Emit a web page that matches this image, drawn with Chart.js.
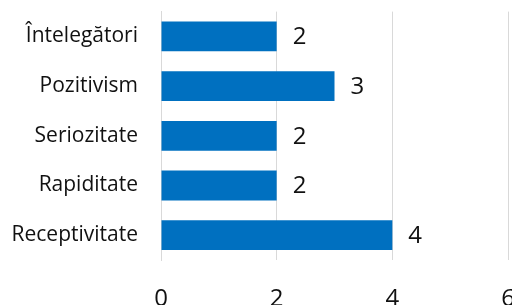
<!DOCTYPE html>
<html><head><meta charset="utf-8">
<script src="https://cdn.jsdelivr.net/npm/chart.js@4"></script>
<style>html,body{margin:0;padding:0;overflow:hidden;background:#fff;width:512px;height:305px}
#wrap{position:absolute;left:0;top:0;width:540px}</style>
</head><body><div id="wrap"><canvas id="c"></canvas></div>
<script>
const categories = ["Întelegători", "Pozitivism", "Seriozitate", "Rapiditate", "Receptivitate"];
const values = [2, 3, 2, 2, 4];
const xTicks = [0, 2, 4, 6];

const FONT = "'Open Sans'";
const valueLabels = {
  id: 'valueLabels',
  afterDatasetsDraw(chart) {
    const ctx = chart.ctx;
    const meta = chart.getDatasetMeta(0);
    ctx.save();
    ctx.font = '24px ' + FONT;
    ctx.fillStyle = '#111';
    ctx.textAlign = 'left';
    ctx.textBaseline = 'middle';
    meta.data.forEach((bar, i) => {
      ctx.fillText(String(values[i]), bar.x + 16, bar.y + 1);
    });
    ctx.restore();
  }
};

function build(H) {
  const cv = document.getElementById('c');
  cv.width = 540; cv.height = H;
  cv.style.width = '540px'; cv.style.height = H + 'px';
  return new Chart(cv, {
    type: 'bar',
    data: {
      labels: categories,
      datasets: [{ data: values, backgroundColor: '#0070C0', barPercentage: 0.6, categoryPercentage: 1 }]
    },
    options: {
      indexAxis: 'y',
      responsive: false,
      animation: false,
      layout: { padding: { top: 0, right: 32, left: 0, bottom: 0 } },
      plugins: { legend: { display: false }, tooltip: { enabled: false } },
      scales: {
        x: {
          min: 0, max: 6,
          afterBuildTicks(scale) { scale.ticks = xTicks.map(v => ({ value: v })); },
          afterFit(scale) { scale.height = 45; },
          grid: { color: '#D9D9D9', drawTicks: false },
          border: { display: false },
          ticks: { padding: 25, color: '#111', font: { family: FONT, size: 24 } }
        },
        y: {
          afterFit(scale) { scale.width = 161; },
          grid: { display: false, drawTicks: false },
          border: { display: true, color: '#D9D9D9' },
          ticks: { padding: 23, color: '#111', font: { family: FONT, size: 21 } }
        }
      }
    },
    plugins: [valueLabels]
  });
}

let chart = build(360);
const t = chart.chartArea.top;
chart.destroy();
document.getElementById('wrap').style.top = (12 - t) + 'px';
chart = build(Math.round(293 + t));
</script></body></html>
